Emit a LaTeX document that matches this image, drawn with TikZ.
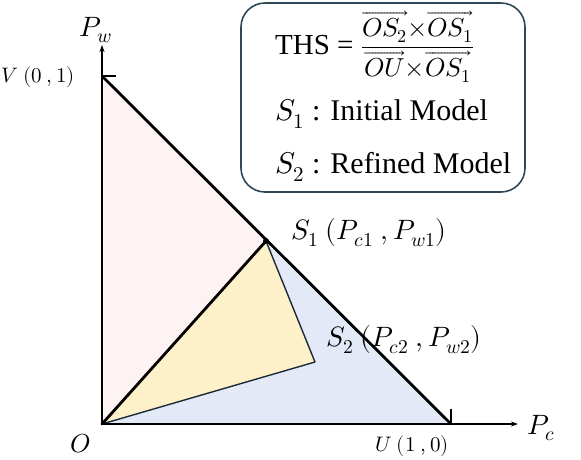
\documentclass[tikz,border=0pt]{standalone}
\usepackage{amsmath}
\usepackage{fontspec}
\usepackage{unicode-math}
\setmainfont{Liberation Serif}
\usetikzlibrary{arrows.meta}
\definecolor{pinkf}{HTML}{FEF3F3}
\definecolor{yellowf}{HTML}{FEF1C9}
\definecolor{bluef}{HTML}{E3E9F6}
\definecolor{boxc}{HTML}{2F4858}
\definecolor{thinc}{HTML}{1C2B3A}
\tikzset{
  axis/.style={line width=1.1pt,-{Stealth[length=7pt,width=5pt]}},
  tick/.style={line width=1.1pt},
  heavy/.style={line width=2.8pt,line cap=round,line join=round},
  light/.style={line width=1.4pt,draw=thinc,line join=round},
  lbl/.style={font=\fontsize{28}{32}\selectfont,inner sep=0pt},
  small/.style={font=\fontsize{21}{25}\selectfont,inner sep=0pt},
  boxtext/.style={font=\fontsize{30}{35}\selectfont,inner sep=0pt,anchor=west}
}
\begin{document}
\begin{tikzpicture}[x=1pt,y=-1pt]
\useasboundingbox (0,0) rectangle (581,459);
\coordinate (O) at (102,424);
\coordinate (U) at (451,424);
\coordinate (V) at (102,76);
\coordinate (S1) at (266,241);
\coordinate (S2) at (315,362);
\coordinate (Ytip) at (102,45);
\coordinate (Xtip) at (518,424);
\coordinate (Vt) at (116,76);
\coordinate (Ut) at (451,409);
% fills
\fill[pinkf] (O)--(V)--(S1)--cycle;
\fill[bluef] (O)--(S1)--(U)--cycle;
\fill[yellowf] (O)--(S1)--(S2)--cycle;
% axes
\draw[axis] (O) -- (Ytip);
\draw[axis] (O) -- (Xtip);
\draw[tick] (V) -- (Vt);
\draw[tick] (U) -- (Ut);
% thin lines
\draw[light] (S1) -- (S2) -- (O);
% heavy lines
\draw[heavy] (V) -- (U);
\draw[heavy] (O) -- (U);
\draw[heavy] (O) -- (S1);
\fill (S1) circle (3pt);
% labels
\node[lbl] (pw) at (96,30) {$P_w$};
\node[lbl] (pc) at (541,428) {$P_c$};
\node[lbl,font=\fontsize{26}{30}\selectfont] (o) at (80,444) {$O$};
\node[small] (v) at (38,77) {$V\ (0\ ,1)$};
\node[small] (u) at (412,446) {$U\ (1\ ,0)$};
\node[lbl,anchor=west] (s1) at (291,233) {$S_1\ (P_{c1}\ ,P_{w1})$};
\node[lbl,anchor=west] (s2) at (326,340) {$S_2\ (P_{c2}\ ,P_{w2})$};
% box
\draw[boxc,line width=1.6pt,rounded corners=24pt] (241,3) rectangle (525,192);
\node[boxtext] (ths) at (275,47) {\fontsize{29}{34}\selectfont THS = \fontsize{26}{30}\selectfont$\dfrac{\overrightarrow{OS_2}{\times}\overrightarrow{OS_1}}{\overrightarrow{OU}{\times}\overrightarrow{OS_1}}$};
\node[boxtext] (m1) at (275,114) {$S_1$ : Initial Model};
\node[boxtext] (m2) at (275,167) {$S_2$ : Refined Model};
\end{tikzpicture}
\end{document}
